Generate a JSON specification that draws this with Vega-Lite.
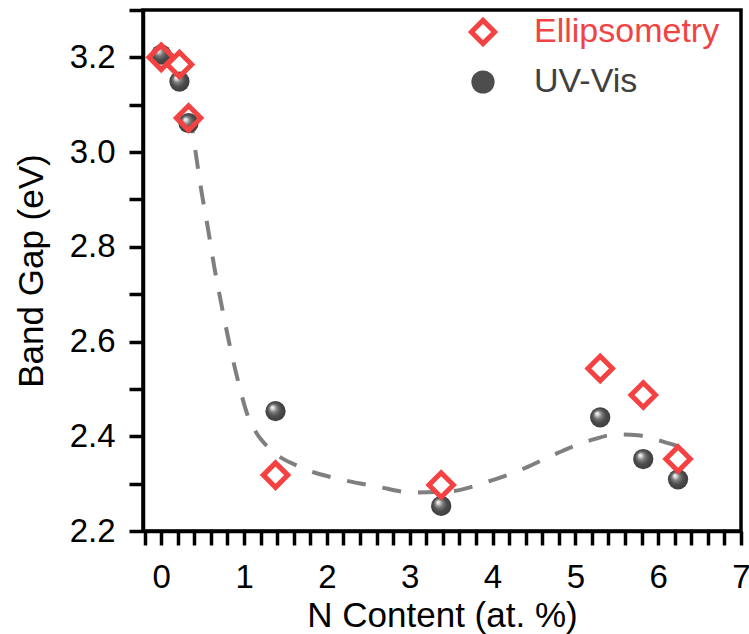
{
  "$schema": "https://vega.github.io/schema/vega-lite/v6.json",
  "width": 598,
  "height": 521,
  "autosize": {"type": "none"},
  "padding": {"left": 143, "top": 10, "right": 8, "bottom": 103},
  "background": "white",
  "datasets": {
    "pts": [
      {"n": 0.0, "gap": 3.2, "series": "Ellipsometry"},
      {"n": 0.22, "gap": 3.185, "series": "Ellipsometry"},
      {"n": 0.33, "gap": 3.072, "series": "Ellipsometry"},
      {"n": 1.38, "gap": 2.318, "series": "Ellipsometry"},
      {"n": 3.38, "gap": 2.297, "series": "Ellipsometry"},
      {"n": 5.3, "gap": 2.543, "series": "Ellipsometry"},
      {"n": 5.82, "gap": 2.487, "series": "Ellipsometry"},
      {"n": 6.24, "gap": 2.352, "series": "Ellipsometry"},
      {"n": 0.0, "gap": 3.206, "series": "UV-Vis"},
      {"n": 0.22, "gap": 3.149, "series": "UV-Vis"},
      {"n": 0.33, "gap": 3.061, "series": "UV-Vis"},
      {"n": 1.38, "gap": 2.453, "series": "UV-Vis"},
      {"n": 3.38, "gap": 2.253, "series": "UV-Vis"},
      {"n": 5.3, "gap": 2.44, "series": "UV-Vis"},
      {"n": 5.82, "gap": 2.352, "series": "UV-Vis"},
      {"n": 6.24, "gap": 2.309, "series": "UV-Vis"}
    ],
    "fit": [
      {"n": 0.35, "gap": 3.08},
      {"n": 0.42, "gap": 2.994},
      {"n": 0.488, "gap": 2.915},
      {"n": 0.566, "gap": 2.837},
      {"n": 0.641, "gap": 2.757},
      {"n": 0.726, "gap": 2.679},
      {"n": 0.82, "gap": 2.598},
      {"n": 0.93, "gap": 2.515},
      {"n": 1.04, "gap": 2.446},
      {"n": 1.15, "gap": 2.407},
      {"n": 1.29, "gap": 2.377},
      {"n": 1.69, "gap": 2.334},
      {"n": 2.14, "gap": 2.31},
      {"n": 2.6, "gap": 2.294},
      {"n": 3.05, "gap": 2.281},
      {"n": 3.5, "gap": 2.284},
      {"n": 3.94, "gap": 2.304},
      {"n": 4.38, "gap": 2.332},
      {"n": 4.79, "gap": 2.365},
      {"n": 5.23, "gap": 2.394},
      {"n": 5.5, "gap": 2.404},
      {"n": 5.75, "gap": 2.402},
      {"n": 6.13, "gap": 2.385},
      {"n": 6.24, "gap": 2.379}
    ]
  },
  "config": {
    "font": "Liberation Sans",
    "view": {"stroke": "black", "strokeWidth": 3.5},
    "axis": {
      "grid": false,
      "domainColor": "black",
      "domainWidth": 3.5,
      "tickColor": "black",
      "tickWidth": 3.5,
      "tickSize": 14,
      "labelFont": "Liberation Sans",
      "labelFontSize": 33,
      "labelColor": "black",
      "labelOverlap": false,
      "labelFlush": false,
      "titleFont": "Liberation Sans",
      "titleFontSize": 35,
      "titleFontWeight": "normal",
      "titleColor": "black"
    },
    "legend": {
      "orient": "none",
      "legendX": 323,
      "legendY": 5,
      "padding": 0,
      "labelFont": "Liberation Sans",
      "labelFontSize": 34,
      "labelOffset": 34,
      "labelLimit": 0,
      "rowPadding": 6,
      "symbolSize": 540,
      "symbolStrokeWidth": 5,
      "symbolOpacity": 1
    }
  },
  "encoding": {
    "x": {
      "field": "n",
      "type": "quantitative",
      "scale": {"domain": [-0.22, 7], "nice": false, "zero": false},
      "axis": {
        "title": "N Content (at. %)",
        "values": [-0.2, 0, 0.2, 0.4, 0.6, 0.8, 1, 1.2, 1.4, 1.6, 1.8, 2, 2.2, 2.4, 2.6, 2.8, 3, 3.2, 3.4, 3.6, 3.8, 4, 4.2, 4.4, 4.6, 4.8, 5, 5.2, 5.4, 5.6, 5.8, 6, 6.2, 6.4, 6.6, 6.8, 7],
        "labelExpr": "abs(datum.value - round(datum.value)) < 0.01 ? format(datum.value, 'd') : ''",
        "labelBaseline": "alphabetic",
        "labelPadding": 42,
        "titleBaseline": "alphabetic",
        "titleY": 95,
        "encode": {
          "ticks": {"update": {"y2": {"signal": "abs(datum.value - round(datum.value)) < 0.01 ? 14 : 7"}}}
        }
      }
    },
    "y": {
      "field": "gap",
      "type": "quantitative",
      "scale": {"domain": [2.2, 3.3], "nice": false, "zero": false},
      "axis": {
        "title": "Band Gap (eV)",
        "values": [2.2, 2.3, 2.4, 2.5, 2.6, 2.7, 2.8, 2.9, 3.0, 3.1, 3.2, 3.3],
        "labelExpr": "abs(datum.value*5 - round(datum.value*5)) < 0.01 ? format(datum.value, '.1f') : ''",
        "labelPadding": 14,
        "titleBaseline": "alphabetic",
        "titleX": -101,
        "encode": {
          "ticks": {"update": {"x2": {"signal": "abs(datum.value*5 - round(datum.value*5)) < 0.01 ? -14 : -7"}}}
        }
      }
    }
  },
  "layer": [
    {
      "data": {"name": "fit"},
      "mark": {"type": "line", "interpolate": "monotone", "strokeDash": [19, 17], "strokeWidth": 4, "color": "#7f7f7f"}
    },
    {
      "data": {"name": "pts"},
      "transform": [{"filter": "datum.series === 'UV-Vis'"}],
      "mark": {
        "type": "point",
        "filled": true,
        "opacity": 1,
        "size": 410,
        "fill": {
          "gradient": "radial", "x1": 0.33, "y1": 0.3, "r1": 0, "x2": 0.5, "y2": 0.5, "r2": 0.55,
          "stops": [
            {"offset": 0, "color": "#ffffff"},
            {"offset": 0.14, "color": "#d8d8d8"},
            {"offset": 0.36, "color": "#7a7a7a"},
            {"offset": 0.62, "color": "#4c4c4c"},
            {"offset": 1, "color": "#3a3a3a"}
          ]
        }
      },
      "encoding": {
        "shape": {
          "field": "series", "type": "nominal", "title": null,
          "scale": {"domain": ["Ellipsometry", "UV-Vis"], "range": ["diamond", "circle"]},
          "legend": {"title": null, "labelColor": {"expr": "datum.value === 'Ellipsometry' ? '#f04444' : '#404040'"}}
        },
        "stroke": {
          "field": "series", "type": "nominal", "title": null,
          "scale": {"domain": ["Ellipsometry", "UV-Vis"], "range": ["#f44141", "transparent"]},
          "legend": {"title": null, "labelColor": {"expr": "datum.value === 'Ellipsometry' ? '#f04444' : '#404040'"}}
        }
      }
    },
    {
      "data": {"name": "pts"},
      "transform": [{"filter": "datum.series === 'Ellipsometry'"}],
      "mark": {"type": "point", "filled": false, "strokeWidth": 5, "opacity": 1, "size": 600},
      "encoding": {
        "shape": {"field": "series", "type": "nominal", "title": null, "legend": {"title": null, "labelColor": {"expr": "datum.value === 'Ellipsometry' ? '#f04444' : '#404040'"}}},
        "fill": {
          "field": "series", "type": "nominal", "title": null,
          "scale": {"domain": ["Ellipsometry", "UV-Vis"], "range": ["transparent", "#4d4d4d"]},
          "legend": {"title": null, "labelColor": {"expr": "datum.value === 'Ellipsometry' ? '#f04444' : '#404040'"}}
        },
        "stroke": {"field": "series", "type": "nominal", "title": null, "legend": {"title": null, "labelColor": {"expr": "datum.value === 'Ellipsometry' ? '#f04444' : '#404040'"}}}
      }
    }
  ]
}
